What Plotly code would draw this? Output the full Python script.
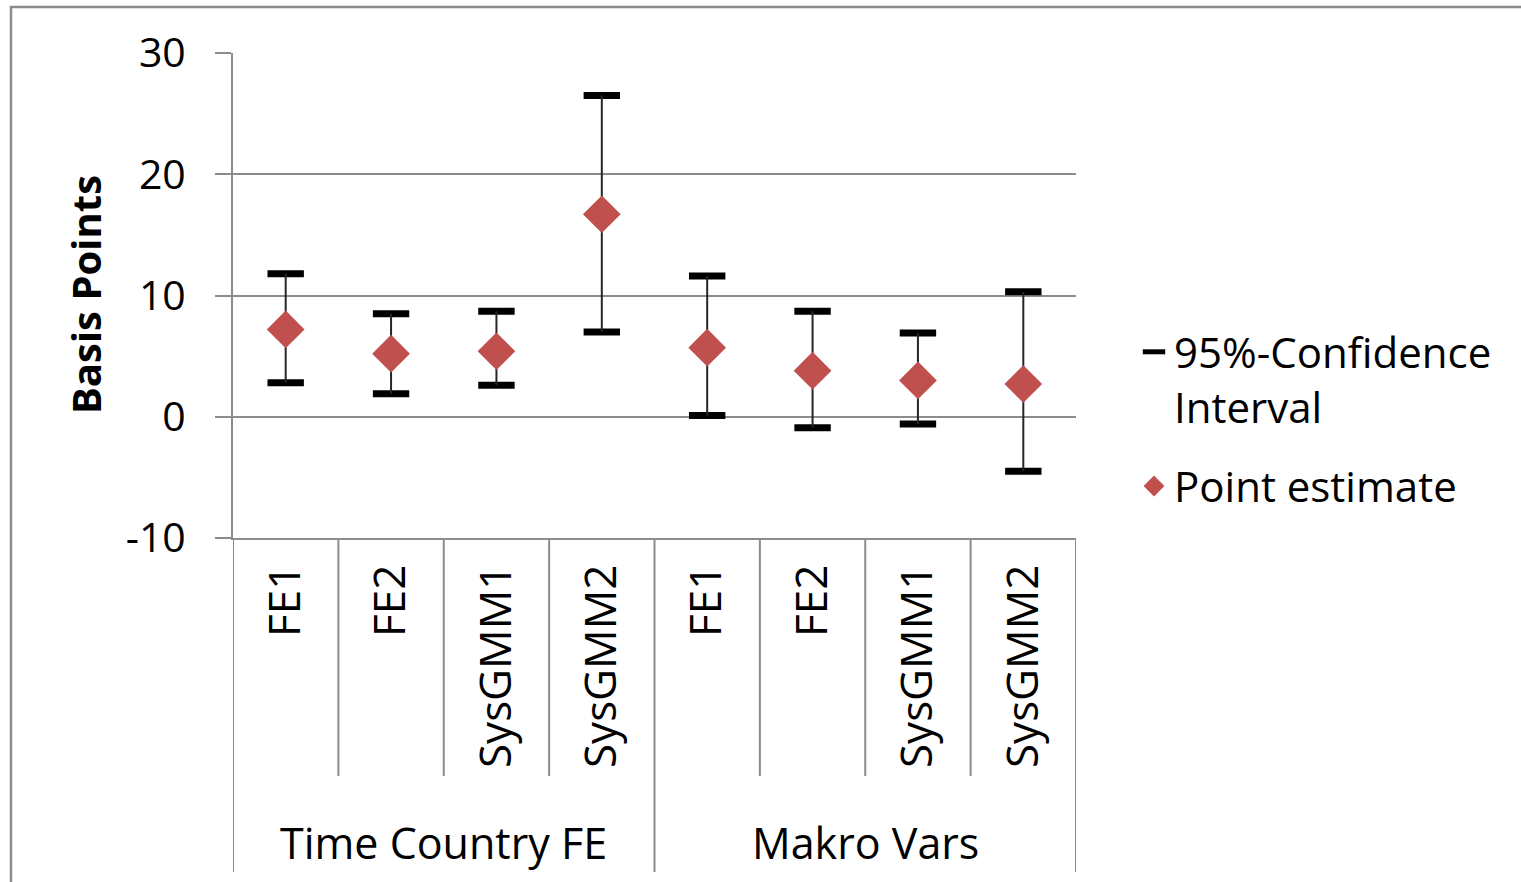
import plotly.graph_objects as go

# ---- data ----
groups = ["Time Country FE", "Makro Vars"]
categories = ["FE1", "FE2", "SysGMM1", "SysGMM2", "FE1", "FE2", "SysGMM1", "SysGMM2"]
group_of = [0, 0, 0, 0, 1, 1, 1, 1]
point_est = [7.2, 5.2, 5.4, 16.7, 5.7, 3.8, 3.0, 2.7]
ci_upper = [11.8, 8.5, 8.7, 26.5, 11.6, 8.7, 6.9, 10.3]
ci_lower = [2.8, 1.9, 2.6, 7.0, 0.1, -0.9, -0.6, -4.5]
y_ticks = [-10, 0, 10, 20, 30]
y_ticktext = ["-10", "0", "10", "20", "30"]

# ---- layout geometry (pixels) ----
W, H = 1521, 882
L, R, T, B = 233, 1076, 53, 538
PW, PH = R - L, B - T

def px(x):
    return (x - L) / PW

def py(y):
    return (B - y) / PH

FONT = "Open Sans"
GRID = "#8c8c8c"
xpos = list(range(len(categories)))

fig = go.Figure()

# CI caps (legend entry)
fig.add_trace(go.Scatter(
    x=xpos + xpos, y=ci_upper + ci_lower,
    mode="markers", name="95%-Confidence<br>Interval", legendgroup="ci",
    marker=dict(symbol="line-ew", size=26, color="black",
                line=dict(width=7, color="black")),
    hoverinfo="skip",
))

# point estimates with whisker lines
fig.add_trace(go.Scatter(
    x=xpos, y=point_est, mode="markers", name="Point estimate", legendgroup="pt",
    marker=dict(symbol="diamond", size=29, color="#C0504D",
                line=dict(width=0)),
    error_y=dict(type="data", symmetric=False,
                 array=[u - p for u, p in zip(ci_upper, point_est)],
                 arrayminus=[p - l for p, l in zip(point_est, ci_lower)],
                 color="#262626", thickness=2, width=0),
))

shapes = []
# category dividers
n = len(categories)
for i in range(n + 1):
    is_group_edge = i == 0 or i == n or group_of[i - 1] != group_of[i]
    shapes.append(dict(type="line", xref="x", yref="paper",
                       x0=i - 0.5, x1=i - 0.5, y0=0,
                       y1=py(872) if is_group_edge else py(776),
                       line=dict(color=GRID, width=2)))
# outer border
shapes.append(dict(type="rect", xref="paper", yref="paper",
                   x0=px(11), x1=px(1540), y0=py(900), y1=py(7),
                   line=dict(color="#8c8c8c", width=2.5), fillcolor="rgba(0,0,0,0)"))

annotations = []
for g, name in enumerate(groups):
    idx = [i for i, gg in enumerate(group_of) if gg == g]
    annotations.append(dict(x=sum(idx) / len(idx), xref="x", y=py(842), yref="paper",
                            text=name, showarrow=False, xanchor="center", yanchor="middle",
                            font=dict(family=FONT, size=43, color="black")))
annotations.append(dict(x=px(85), y=py(295), xref="paper", yref="paper",
                        text="<b>Basis Points</b>", textangle=-90, showarrow=False,
                        xanchor="center", yanchor="middle",
                        font=dict(family=FONT, size=40, color="black")))

fig.update_layout(
    width=W, height=H,
    margin=dict(l=L, r=W - R, t=T, b=H - B, pad=0),
    paper_bgcolor="white", plot_bgcolor="white",
    font=dict(family=FONT, color="black", size=40),
    showlegend=True,
    legend=dict(x=px(1134), y=py(318), xanchor="left", yanchor="top",
                font=dict(family=FONT, size=42, color="black"),
                bgcolor="rgba(0,0,0,0)", tracegroupgap=22, itemsizing="trace",
                valign="top"),
    shapes=shapes, annotations=annotations,
    xaxis=dict(range=[-0.5, n - 0.5], tickvals=xpos, ticktext=categories,
               tickangle=-90, showgrid=False, zeroline=False, showline=True,
               linecolor=GRID, linewidth=2, ticks="", ticklabelstandoff=7,
               tickfont=dict(family=FONT, size=44, color="black")),
    yaxis=dict(range=[-10, 30], tickvals=y_ticks, ticktext=y_ticktext,
               showgrid=True, gridcolor=GRID,
               gridwidth=2, zeroline=False, showline=True, linecolor=GRID, linewidth=2,
               ticks="outside", ticklen=16, tickcolor=GRID, tickwidth=2,
               ticklabelstandoff=21,
               tickfont=dict(family=FONT, size=41, color="black")),
)

fig.write_html("out.html", config={"displayModeBar": False},
               post_script="document.body.style.margin='0';")
